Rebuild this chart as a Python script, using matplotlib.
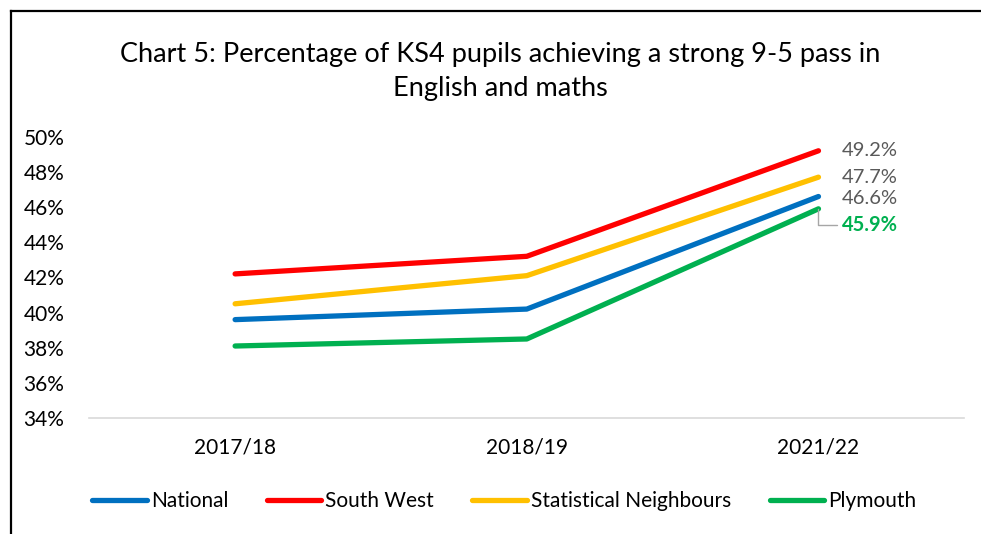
import matplotlib.pyplot as plt
from matplotlib.ticker import FuncFormatter

# KS4 strong pass (9-5) in English and maths, percent
years = ['2017/18', '2018/19', '2021/22']
national = [39.6, 40.2, 46.6]
south_west = [42.2, 43.2, 49.2]
stat_neighbours = [40.5, 42.1, 47.7]
plymouth = [38.1, 38.5, 45.9]

plt.rcParams['font.family'] = ['Lato', 'DejaVu Sans']

fig = plt.figure(figsize=(9.81, 5.34), dpi=100)
ax = fig.add_axes([0.091, 0.217, 0.892, 0.527])

x = range(len(years))
series = [
    ('National', national, '#0070C0'),
    ('South West', south_west, '#FF0000'),
    ('Statistical Neighbours', stat_neighbours, '#FFC000'),
    ('Plymouth', plymouth, '#00B050'),
]
for name, vals, col in series:
    ax.plot(x, vals, color=col, lw=3.8, solid_capstyle='round', label=name)

ax.set_xlim(-0.5, 2.5)
ax.set_ylim(34, 50)
ax.set_yticks(range(34, 51, 2))
ax.yaxis.set_major_formatter(FuncFormatter(lambda v, p: '%d%%' % v))
ax.set_xticks(list(x))
ax.set_xticklabels(years)
ax.tick_params(axis='both', length=0, labelsize=15, colors='#000000')
ax.tick_params(axis='x', pad=14)
ax.tick_params(axis='y', pad=18)
for s in ['top', 'right', 'left']:
    ax.spines[s].set_visible(False)
ax.spines['bottom'].set_color('#D9D9D9')
ax.spines['bottom'].set_linewidth(1.2)

# end-point labels
lab = dict(textcoords='offset points', va='center', fontsize=14.5)
ax.annotate('%.1f%%' % south_west[-1], (2, south_west[-1]), xytext=(17, 0),
            color='#595959', **lab)
ax.annotate('%.1f%%' % stat_neighbours[-1], (2, stat_neighbours[-1]), xytext=(17, 0),
            color='#595959', **lab)
ax.annotate('%.1f%%' % national[-1], (2, national[-1]), xytext=(17, -1.5),
            color='#595959', **lab)
ax.annotate('%.1f%%' % plymouth[-1], (2, plymouth[-1]), xytext=(17, -12),
            color='#00B050', fontweight='bold',
            arrowprops=dict(arrowstyle='-', color='#A6A6A6', lw=1,
                            connectionstyle='angle,angleA=0,angleB=90,rad=0',
                            shrinkA=2, shrinkB=0), **lab)

fig.text(0.51, 0.866, 'Chart 5: Percentage of KS4 pupils achieving a strong 9-5 pass in\nEnglish and maths',
         ha='center', va='center', fontsize=19.5, linespacing=1.45)

fig.legend(loc='center', bbox_to_anchor=(0.514, 0.062), ncol=4, frameon=False,
           fontsize=15, handlelength=2.6, handletextpad=0.2, columnspacing=1.85)

# outer frame (left and top edges)
fig.add_artist(plt.Line2D([0.011, 0.011], [0, 0.98], color='black', lw=1.6,
                          transform=fig.transFigure))
fig.add_artist(plt.Line2D([0.011, 1.0], [0.98, 0.98], color='black', lw=1.6,
                          transform=fig.transFigure))

fig.savefig('out.png', dpi=100)
